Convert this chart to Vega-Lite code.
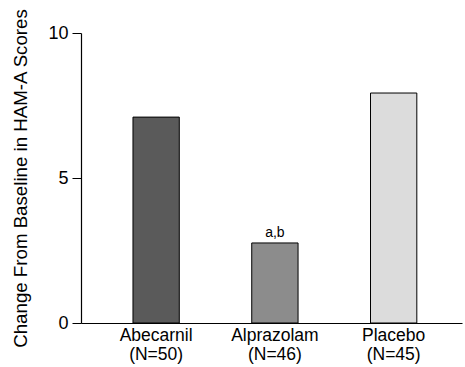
{
  "$schema": "https://vega.github.io/schema/vega-lite/v6.json",
  "autosize": {"type": "none"},
  "width": 381,
  "height": 290,
  "padding": {"left": 81, "top": 33, "right": 3, "bottom": 44},
  "background": "white",
  "config": {
    "view": {"stroke": null},
    "font": "Liberation Sans"
  },
  "data": {
    "values": [
      {"group": "Abecarnil|(N=50)", "change": 7.1, "note": ""},
      {"group": "Alprazolam|(N=46)", "change": 2.76, "note": "a,b"},
      {"group": "Placebo|(N=45)", "change": 7.93, "note": ""}
    ]
  },
  "encoding": {
    "x": {
      "field": "group",
      "type": "nominal",
      "sort": null,
      "scale": {"paddingInner": 0.61, "paddingOuter": 0.409, "align": 0.535},
      "axis": {
        "title": null,
        "labelAngle": 0,
        "labelExpr": "split(datum.label, '|')",
        "labelFontSize": 17.5,
        "labelColor": "black",
        "labelLineHeight": 19,
        "labelPadding": 3,
        "ticks": false,
        "domainColor": "black",
        "domainWidth": 1.2
      }
    },
    "y": {
      "field": "change",
      "type": "quantitative",
      "scale": {"domain": [0, 10]},
      "axis": {
        "title": "Change From Baseline in HAM-A Scores",
        "titleFontSize": 18.7,
        "titleFontWeight": "normal",
        "titleColor": "black",
        "titlePadding": 17,
        "values": [0, 5, 10],
        "grid": false,
        "tickSize": 9,
        "tickColor": "black",
        "domainColor": "black",
        "domainWidth": 1.2,
        "labelFontSize": 18,
        "labelColor": "black",
        "labelPadding": 4
      }
    }
  },
  "layer": [
    {
      "mark": {"type": "bar", "stroke": "black", "strokeWidth": 1},
      "encoding": {
        "color": {
          "field": "group",
          "type": "nominal",
          "sort": null,
          "scale": {"range": ["#5a5a5a", "#8c8c8c", "#dcdcdc"]},
          "legend": null
        }
      }
    },
    {
      "mark": {"type": "text", "dy": -3, "fontSize": 14, "color": "black", "baseline": "bottom"},
      "encoding": {"text": {"field": "note"}}
    }
  ]
}
